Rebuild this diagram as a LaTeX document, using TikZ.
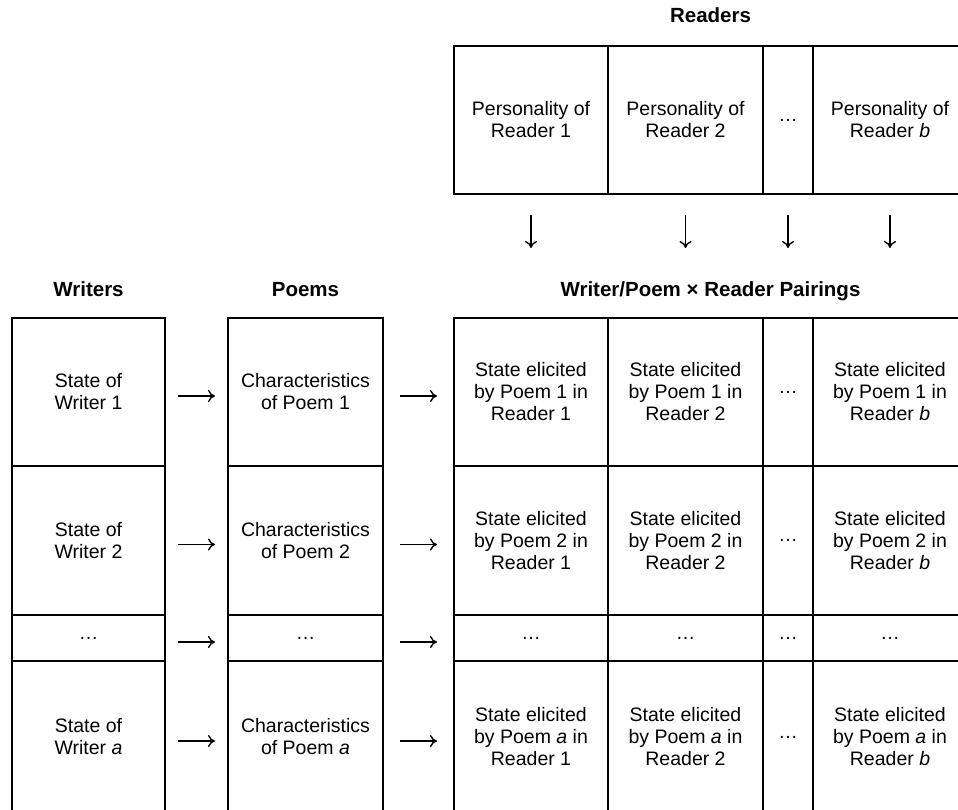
\documentclass[tikz,border=0pt]{standalone}
\usepackage{fontspec}
\setmainfont{Liberation Sans}
\usetikzlibrary{positioning,calc,arrows.meta}

\tikzset{
  cell/.style 2 args = {draw, line width=1.8pt, minimum width=#1, minimum height=#2},
  head/.style = {anchor=base, font=\fontsize{20.5}{24}\selectfont\bfseries},
  arr/.style = {line width=1.4pt, -{Computer Modern Rightarrow[length=7pt,width=12pt]}}
}

\begin{document}
\begin{tikzpicture}[x=1pt, y=-1pt, node distance=0pt,
      every node/.style = {align=center, inner sep=0pt, outer sep=0pt,
        font=\fontsize{19.5}{22}\selectfont}]
  \useasboundingbox (0,0) rectangle (958,809);

  % writers
  \node[cell={153}{148}] (w1) at (88.5,392) {State of\\Writer 1};
  \node[cell={153}{149}, below=of w1] (w2) {State of\\Writer 2};
  \node[cell={153}{46}, below=of w2] (wd) {…};
  \node[cell={153}{152}, below=of wd] (wa) {State of\\Writer \textit{a}};

  % poems
  \node[cell={155}{148}] (p1) at (305.5,392) {Characteristics\\of Poem 1};
  \node[cell={155}{149}, below=of p1] (p2) {Characteristics\\of Poem 2};
  \node[cell={155}{46}, below=of p2] (pd) {…};
  \node[cell={155}{152}, below=of pd] (pa) {Characteristics\\of Poem \textit{a}};

  % readers
  \node[cell={154}{148}] (r1) at (531,120) {Personality of\\Reader 1};
  \node[cell={155}{148}, right=of r1] (r2) {Personality of\\Reader 2};
  \node[cell={50}{148}, right=of r2] (rd) {…};
  \node[cell={154}{148}, right=of rd] (rb) {Personality of\\Reader \textit{b}};

  % pairings
  \node[cell={154}{148}] (s11) at (531,392) {State elicited\\by Poem 1 in\\Reader 1};
  \node[cell={155}{148}, right=of s11] (s12) {State elicited\\by Poem 1 in\\Reader 2};
  \node[cell={50}{148}, right=of s12] (s1d) {…};
  \node[cell={154}{148}, right=of s1d] (s1b) {State elicited\\by Poem 1 in\\Reader \textit{b}};

  \node[cell={154}{149}, below=of s11] (s21) {State elicited\\by Poem 2 in\\Reader 1};
  \node[cell={155}{149}, right=of s21] (s22) {State elicited\\by Poem 2 in\\Reader 2};
  \node[cell={50}{149}, right=of s22] (s2d) {…};
  \node[cell={154}{149}, right=of s2d] (s2b) {State elicited\\by Poem 2 in\\Reader \textit{b}};

  \node[cell={154}{46}, below=of s21] (sd1) {…};
  \node[cell={155}{46}, right=of sd1] (sd2) {…};
  \node[cell={50}{46}, right=of sd2] (sdd) {…};
  \node[cell={154}{46}, right=of sdd] (sdb) {…};

  \node[cell={154}{152}, below=of sd1] (sa1) {State elicited\\by Poem \textit{a} in\\Reader 1};
  \node[cell={155}{152}, right=of sa1] (sa2) {State elicited\\by Poem \textit{a} in\\Reader 2};
  \node[cell={50}{152}, right=of sa2] (sad) {…};
  \node[cell={154}{152}, right=of sad] (sab) {State elicited\\by Poem \textit{a} in\\Reader \textit{b}};

  % headings
  \node[head] (hw) at ([yshift=22pt]w1.north) {Writers};
  \node[head] (hp) at ([yshift=22pt]p1.north) {Poems};
  \node[head, yshift=22pt] (hs) at ($(s11.north west)!0.5!(s1b.north east)$) {Writer/Poem × Reader Pairings};
  \node[head, yshift=24pt] (hr) at ($(r1.north west)!0.5!(rb.north east)$) {Readers};

  % writer -> poem -> pairing
  \draw[arr, shorten <=13pt, shorten >=13pt] ([yshift=-4pt]w1.east) -- ([yshift=-4pt]p1.west);
  \draw[arr, shorten <=13pt, shorten >=13pt] ([yshift=-4pt]w2.east) -- ([yshift=-4pt]p2.west);
  \draw[arr, shorten <=13pt, shorten >=13pt] ([yshift=-4pt]wd.east) -- ([yshift=-4pt]pd.west);
  \draw[arr, shorten <=13pt, shorten >=13pt] ([yshift=-4pt]wa.east) -- ([yshift=-4pt]pa.west);
  \draw[arr, shorten <=17pt, shorten >=17pt] ([yshift=-4pt]p1.east) -- ([yshift=-4pt]s11.west);
  \draw[arr, shorten <=17pt, shorten >=17pt] ([yshift=-4pt]p2.east) -- ([yshift=-4pt]s21.west);
  \draw[arr, shorten <=17pt, shorten >=17pt] ([yshift=-4pt]pd.east) -- ([yshift=-4pt]sd1.west);
  \draw[arr, shorten <=17pt, shorten >=17pt] ([yshift=-4pt]pa.east) -- ([yshift=-4pt]sa1.west);

  % readers -> pairings
  \draw[arr, shorten <=21pt, shorten >=70pt] (r1) -- (s11);
  \draw[arr, shorten <=21pt, shorten >=70pt] (r2) -- (s12);
  \draw[arr, shorten <=21pt, shorten >=70pt] (rd) -- (s1d);
  \draw[arr, shorten <=21pt, shorten >=70pt] (rb) -- (s1b);
\end{tikzpicture}
\end{document}
